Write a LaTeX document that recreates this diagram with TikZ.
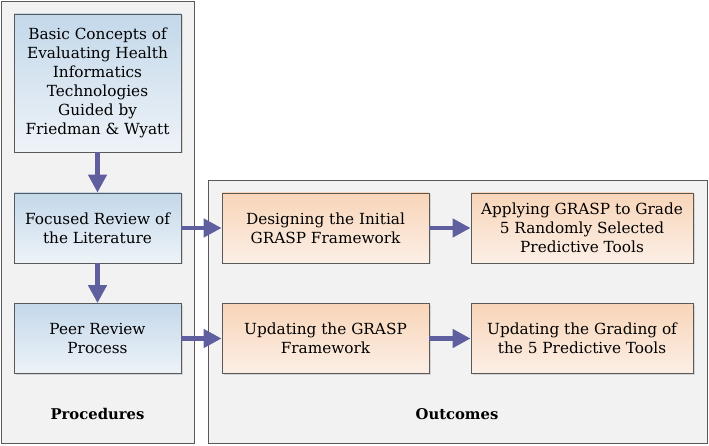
\documentclass[tikz,border=0pt]{standalone}
\usepackage{fontspec}
\setmainfont{DejaVu Serif}
\usetikzlibrary{arrows.meta,positioning,shadows}
\definecolor{panelgray}{HTML}{F2F2F2}
\definecolor{edgegray}{HTML}{595959}
\definecolor{bluetop}{HTML}{C3D8EA}
\definecolor{bluebot}{HTML}{EEF3F8}
\definecolor{orangetop}{HTML}{F8D5B8}
\definecolor{orangebot}{HTML}{FCEFE6}
\definecolor{flowpurple}{HTML}{5F5F9F}
\tikzset{
  panel/.style={draw=edgegray,fill=panelgray,line width=0.8pt},
  procbox/.style={draw=edgegray,line width=0.8pt,top color=bluetop,bottom color=bluebot,
    minimum width=167pt,minimum height=70pt,align=center,inner sep=2pt,
    font=\fontsize{15.3}{19}\selectfont,
    drop shadow={opacity=0.25,shadow xshift=1.5pt,shadow yshift=-1.5pt}},
  outbox/.style={procbox,top color=orangetop,bottom color=orangebot},
  flow/.style={draw=flowpurple,line width=4.5pt,-{Triangle[width=18pt,length=18pt]}},
  paneltitle/.style={font=\fontsize{14.8}{17}\selectfont\bfseries}
}
\begin{document}
\begin{tikzpicture}[x=1pt,y=-1pt]
  \useasboundingbox (0,0) rectangle (709,446);
  % panels
  \draw[panel] (1,1) rectangle (194,443);
  \draw[panel] (208,180) rectangle (707,443);
  % procedures
  \node[procbox,minimum height=138pt] (basics) at (97.5,83) {Basic Concepts of\\Evaluating Health\\Informatics\\Technologies\\Guided by\\Friedman \& Wyatt};
  \node[procbox] (review) at (97.5,228) {Focused Review of\\the Literature};
  \node[procbox] (peer) at (97.5,338.5) {Peer Review\\Process};
  \node[paneltitle] (proclabel) at (97.5,414) {Procedures};
  % outcomes
  \node[outbox,minimum width=207pt] (design) at (325.5,228) {Designing the Initial\\GRASP Framework};
  \node[outbox,minimum width=222pt] (apply) at (582,228) {Applying GRASP to Grade\\5 Randomly Selected\\Predictive Tools};
  \node[outbox,minimum width=207pt] (update) at (325.5,338.5) {Updating the GRASP\\Framework};
  \node[outbox,minimum width=222pt] (regrade) at (582,338.5) {Updating the Grading of\\the 5 Predictive Tools};
  \node[paneltitle] (outlabel) at (457,414) {Outcomes};
  % arrows
  \draw[flow] (basics) -- (review);
  \draw[flow] (review) -- (peer);
  \draw[flow] (review) -- (design);
  \draw[flow] (peer) -- (update);
  \draw[flow] (design) -- (apply);
  \draw[flow] (update) -- (regrade);
\end{tikzpicture}
\end{document}
